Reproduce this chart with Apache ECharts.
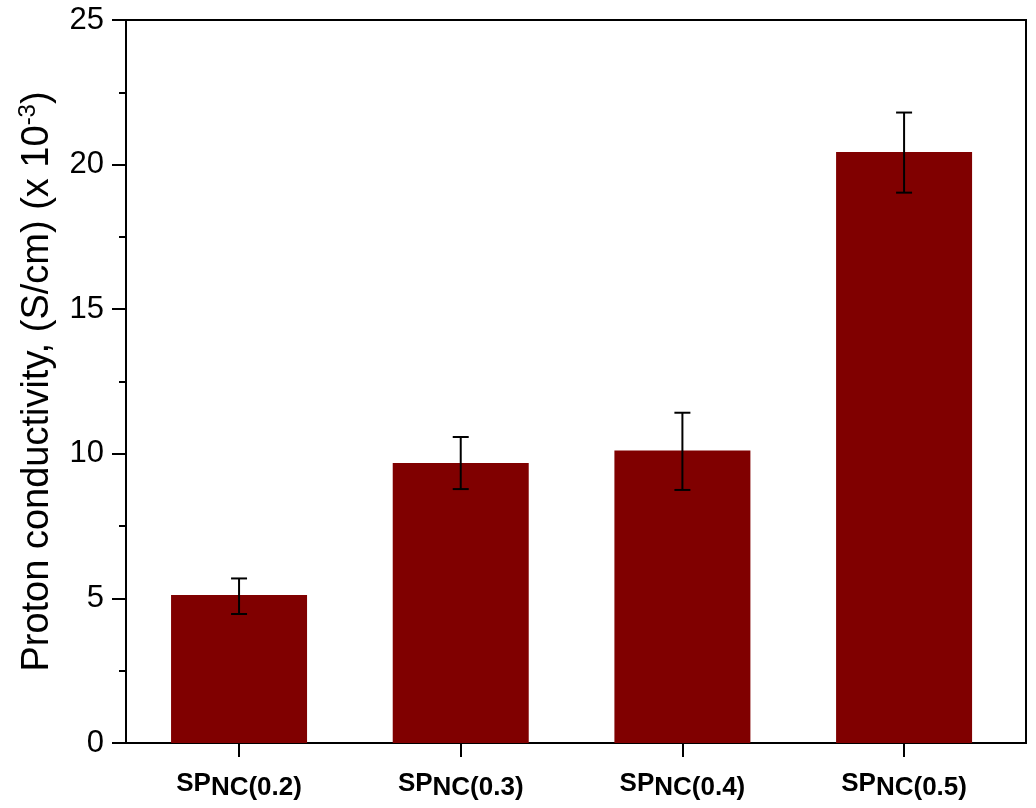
<!DOCTYPE html>
<html>
<head>
<meta charset="utf-8">
<script src="https://cdn.jsdelivr.net/npm/echarts@6/dist/echarts.min.js"></script>
<style>html,body{margin:0;padding:0;background:#fff}#c{width:1036px;height:808px}</style>
</head>
<body>
<div id="c"></div>
<script>
const categories = ['NC(0.2)', 'NC(0.3)', 'NC(0.4)', 'NC(0.5)'];
const positions = [1, 2, 3, 4];
const conductivity = [5.12, 9.68, 10.11, 20.44];
const errLow = [4.46, 8.78, 8.75, 19.03];
const errHigh = [5.69, 10.58, 11.42, 21.80];
const yTicks = [0, 5, 10, 15, 20, 25];

const FONT = 'Arial, "Liberation Sans", sans-serif';
const chart = echarts.init(document.getElementById('c'), null, {renderer: 'canvas'});

chart.setOption({
  animation: false,
  backgroundColor: '#fff',
  grid: {left: 126, top: 20, right: 10, bottom: 65, show: true, borderColor: '#000', borderWidth: 2, backgroundColor: 'transparent'},
  xAxis: {
    type: 'value', min: 0.49, max: 4.55,
    splitLine: {show: false},
    axisLine: {show: true, onZero: false, lineStyle: {color: '#000', width: 2}},
    axisTick: {show: true, customValues: positions, length: 14, lineStyle: {color: '#000', width: 2}},
    axisLabel: {
      customValues: positions, margin: 28,
      formatter: function (v) { const i = positions.indexOf(Math.round(v)); return '{sp|SP}{sub|' + categories[i] + '}'; },
      rich: {
        sp: {fontSize: 26, fontWeight: 'bold', fontFamily: FONT, color: '#000', verticalAlign: 'top', lineHeight: 30},
        sub: {fontSize: 26, fontWeight: 'bold', fontFamily: FONT, color: '#000', verticalAlign: 'bottom', lineHeight: 30, padding: [7, 0, 0, 0]}
      }
    }
  },
  yAxis: {
    type: 'value', min: 0, max: 25, interval: 5,
    splitLine: {show: false},
    axisLine: {show: true, lineStyle: {color: '#000', width: 2}},
    axisTick: {show: true, length: 14, lineStyle: {color: '#000', width: 2}},
    minorTick: {show: true, splitNumber: 2, length: 7, lineStyle: {color: '#000', width: 2}},
    axisLabel: {fontSize: 31, color: '#000', fontFamily: FONT, margin: 22,
      formatter: function (v) { return yTicks.indexOf(v) >= 0 ? String(v) : ''; }},
    name: '{a|Proton conductivity, (S/cm) (x 10}{sup|-3}{a|)}',
    nameLocation: 'middle', nameGap: 66, nameRotate: 90,
    nameTextStyle: {
      rich: {
        a: {fontSize: 38, fontFamily: FONT, color: '#000', lineHeight: 44},
        sup: {fontSize: 24, fontFamily: FONT, color: '#000', verticalAlign: 'top', lineHeight: 44, padding: [0, 0, 16, 0]}
      }
    }
  },
  series: [
    {
      type: 'bar', barWidth: 136,
      itemStyle: {color: '#800000'},
      data: positions.map((p, i) => [p, conductivity[i]])
    },
    {
      type: 'custom',
      z: 10,
      data: positions.map((p, i) => [p, errLow[i], errHigh[i]]),
      renderItem: function (params, api) {
        const lo = api.coord([api.value(0), api.value(1)]);
        const hi = api.coord([api.value(0), api.value(2)]);
        const hw = 8;
        const st = {stroke: '#000', lineWidth: 2};
        return {type: 'group', children: [
          {type: 'line', shape: {x1: lo[0], y1: lo[1], x2: hi[0], y2: hi[1]}, style: st},
          {type: 'line', shape: {x1: lo[0] - hw, y1: lo[1], x2: lo[0] + hw, y2: lo[1]}, style: st},
          {type: 'line', shape: {x1: hi[0] - hw, y1: hi[1], x2: hi[0] + hw, y2: hi[1]}, style: st}
        ]};
      }
    }
  ]
});
</script>
</body>
</html>
